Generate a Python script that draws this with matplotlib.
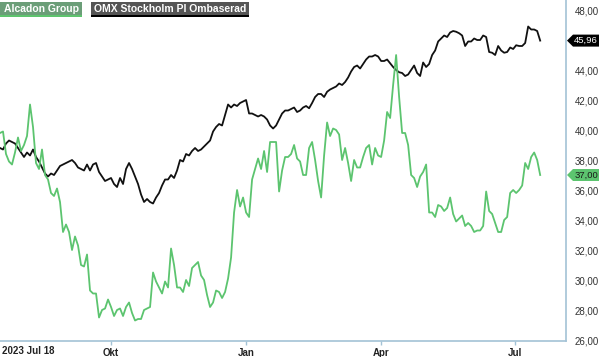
import matplotlib
matplotlib.use("Agg")
import matplotlib.pyplot as plt
import matplotlib.dates as mdates
from matplotlib.patches import Rectangle, Polygon
import pandas as pd

plt.rcParams['font.family'] = ['Liberation Sans', 'DejaVu Sans']

# valores (aprox. cada 2 dias de bolsa)
alcadon = [39.8, 39.9, 38.4, 37.9, 37.7, 38.5, 39.5, 38.6, 39.0, 39.6,
           41.7, 40.2, 37.8, 37.4, 38.7, 37.0, 36.7, 35.8, 35.6, 36.1,
           35.2, 33.2, 33.7, 33.2, 32.0, 32.9, 32.3, 31.0, 30.9, 31.7,
           29.3, 29.1, 29.1, 27.5, 28.0, 28.1, 28.7, 28.2, 27.6, 28.0,
           28.1, 27.6, 28.2, 28.5, 27.8, 27.3, 27.4, 27.4, 28.0, 28.1,
           28.2, 30.5, 29.9, 29.5, 29.1, 29.9, 29.5, 32.1, 31.0, 29.5,
           29.5, 29.2, 30.0, 29.6, 30.8, 31.0, 31.2, 30.3, 30.0, 29.0,
           28.2, 28.5, 29.3, 29.2, 28.8, 29.2, 30.1, 31.5, 34.5, 36.0,
           34.9, 35.5, 34.5, 34.2, 36.7, 37.4, 38.1, 37.4, 38.6, 37.2,
           39.2, 39.2, 39.2, 35.9, 37.3, 38.2, 38.2, 38.4, 39.0, 38.1,
           37.9, 37.0, 37.0, 38.8, 39.2, 38.0, 36.6, 35.5, 38.3, 40.5,
           39.6, 40.1, 40.0, 39.7, 38.0, 38.8, 37.8, 36.6, 38.0, 37.5,
           37.5, 38.2, 38.8, 39.0, 37.7, 38.8, 38.3, 38.2, 39.3, 41.2,
           40.8, 43.0, 45.0, 42.2, 39.8, 39.8, 39.0, 37.0, 36.8, 36.2,
           36.9, 37.2, 37.7, 34.5, 34.5, 34.2, 35.0, 34.9, 34.6, 34.8,
           35.5, 34.4, 33.9, 34.1, 34.3, 33.6, 33.8, 33.6, 33.2, 33.3,
           33.3, 33.6, 35.9, 34.6, 34.4, 33.8, 33.2, 33.2, 34.0, 34.2,
           35.8, 36.0, 35.8, 36.0, 36.3, 37.8, 37.4, 38.2, 38.5, 38.0,
           37.0]

omx = [38.8, 38.7, 39.1, 39.3, 39.2, 39.1, 38.8, 38.5, 38.2, 38.5,
       38.3, 38.7, 38.2, 37.9, 37.5, 37.1, 36.9, 37.1, 37.0, 37.3,
       37.6, 37.7, 37.8, 37.9, 38.0, 37.8, 37.5, 37.4, 37.3, 37.7,
       37.3, 37.7, 37.8, 37.2, 36.9, 36.6, 36.7, 36.8, 36.4, 36.2,
       36.8, 36.4, 37.4, 37.8, 37.4, 36.9, 36.4, 35.7, 35.2, 35.4,
       35.2, 35.1, 35.5, 35.8, 36.3, 36.7, 36.7, 37.0, 36.8, 37.3,
       38.0, 37.9, 38.4, 38.3, 38.6, 38.8, 38.6, 38.7, 38.9, 39.1,
       39.3, 39.9, 40.2, 40.4, 40.3, 41.0, 41.7, 41.5, 41.7, 41.6,
       41.8, 41.9, 42.0, 41.1, 41.1, 41.0, 40.9, 41.0, 40.9, 40.7,
       40.3, 40.1, 40.3, 40.7, 41.1, 41.3, 41.3, 41.4, 41.5, 41.2,
       41.3, 41.5, 41.6, 41.45, 41.8, 42.2, 42.4, 42.4, 42.2, 42.55,
       42.7, 42.8, 42.9, 43.1, 43.0, 43.2, 43.5, 43.9, 44.2, 44.3,
       44.1, 44.4, 44.7, 44.9, 44.9, 45.0, 44.9, 44.6, 44.6, 44.7,
       44.45, 44.2, 44.0, 43.85, 43.8, 43.6, 43.7, 44.0, 44.3, 43.8,
       43.6, 44.5, 44.2, 44.4, 45.0, 45.3, 45.9, 46.1, 46.3, 46.2,
       46.5, 46.6, 46.55, 46.45, 46.3, 45.6, 45.9, 45.9, 46.1, 46.0,
       46.0, 46.3, 46.2, 45.2, 45.15, 45.0, 45.6, 45.3, 45.15, 45.2,
       45.5, 45.4, 45.65, 45.6, 45.6, 45.8, 46.9, 46.7, 46.7, 46.6,
       45.96]

inicio = "2023-07-18"
fin = "2024-07-18"
fechas = pd.date_range(inicio, fin, periods=len(alcadon))

meses = ["2023-10-01", "2024-01-01", "2024-04-01", "2024-07-01"]
nombres_meses = ["Okt", "Jan", "Apr", "Jul"]
niveles = [26, 28, 30, 32, 34, 36, 38, 40, 42, 44, 46, 48]

verde = "#5cc46f"
negro = "#111111"
azul = "#a3c2d6"

fig = plt.figure(figsize=(6, 3.57), dpi=100)
ax = fig.add_axes([0, 16 / 357, 566 / 600, 341 / 357])

ax.plot(fechas, omx, color=negro, lw=1.3)
ax.plot(fechas, alcadon, color=verde, lw=1.3)

ax.set_ylim(26 - 1 / 15, 48 + 10 / 15)
ax.set_xlim(pd.Timestamp(inicio), pd.Timestamp("2024-08-04 12:00"))

# el 46,00 queda tapado por la etiqueta del ultimo valor
etiquetas_y = ["" if v == 46 else f"{v:.2f}".replace(".", ",") for v in niveles]
ax.yaxis.tick_right()
ax.set_yticks(niveles)
ax.set_yticklabels(etiquetas_y)
ax.tick_params(axis="y", length=0, pad=6, labelsize=7, labelcolor="#333333")

ax.set_xticks(pd.to_datetime(meses))
ax.set_xticklabels(nombres_meses, fontweight="bold")
ax.tick_params(axis="x", length=3, width=1, color=azul, pad=2, labelsize=7,
               labelcolor="#222222")
ax.text(0.004, -0.014, "2023 Jul 18", transform=ax.transAxes, ha="left", va="top",
        fontsize=7, fontweight="bold", color="#222222")

ax.spines["top"].set_visible(False)
ax.spines["left"].set_visible(False)
ax.spines["right"].set_color(azul)
ax.spines["bottom"].set_color(azul)
ax.spines["right"].set_linewidth(1.2)
ax.spines["bottom"].set_linewidth(1.2)


def px(x, y):
    return (x / 600, 1 - y / 357)


# leyenda arriba a la izquierda
for x0, x1, fondo, borde, texto in [(0, 82, "#6b9e78", "#5ec46e", "Alcadon Group"),
                                    (91, 249, "#555555", "#000000", "OMX Stockholm PI Ombaserad")]:
    fig.add_artist(Rectangle(px(x0, 15), (x1 - x0) / 600, 13 / 357,
                             transform=fig.transFigure, color=fondo, lw=0))
    fig.add_artist(Rectangle(px(x0, 17), (x1 - x0) / 600, 2 / 357,
                             transform=fig.transFigure, color=borde, lw=0))
    fig.text(*px((x0 + x1) / 2, 9), texto, ha="center", va="center",
             fontsize=7.5, fontweight="bold", color="white")

# etiquetas del ultimo valor
for valor, fondo, color_texto in [(omx[-1], "#000000", "white"),
                                  (alcadon[-1], verde, "#1a1a1a")]:
    yd = ax.transData.transform((mdates.date2num(fechas[-1]), valor))[1]
    yp = 357 - yd
    pts = [px(567, yp), px(573, yp - 6), px(599, yp - 6),
           px(599, yp + 6), px(573, yp + 6)]
    fig.add_artist(Polygon(pts, closed=True, transform=fig.transFigure,
                           color=fondo, lw=0, zorder=5))
    fig.text(*px(586, yp), f"{valor:.2f}".replace(".", ","), ha="center",
             va="center", fontsize=6.8, color=color_texto, zorder=6)

fig.savefig("out.png", dpi=100)
